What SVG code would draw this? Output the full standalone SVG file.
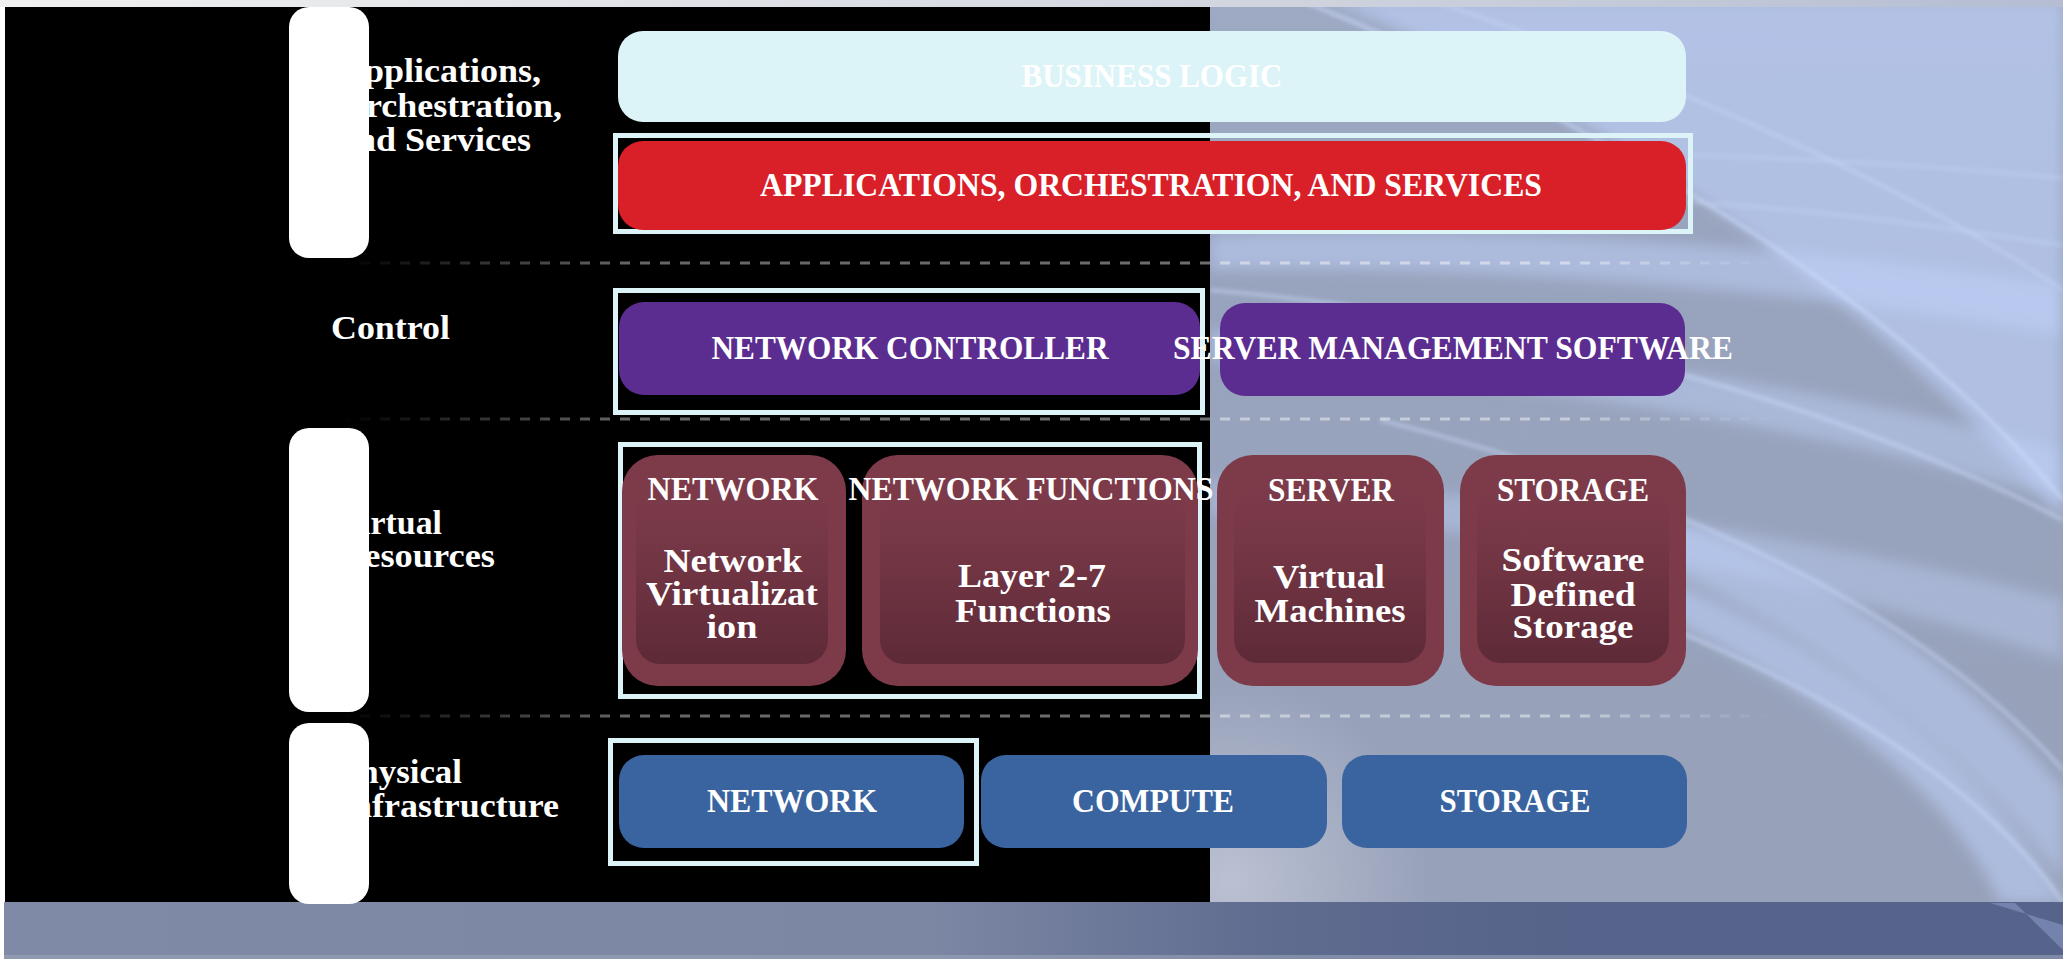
<svg xmlns="http://www.w3.org/2000/svg" width="2063" height="959" viewBox="0 0 2063 959">
<defs>
<style>
.t{font-family:"Liberation Serif","DejaVu Serif",serif;font-weight:bold;fill:#fff;font-size:34px}
.lbl{font-size:33px}
.ml{font-size:33px}
.c{text-anchor:middle}
.frame{fill:none;stroke:#dcf4f8;stroke-width:5}
.dl{fill:none;stroke:url(#dash);stroke-width:3;stroke-dasharray:10 10}
.pill{fill:#fff}
.maroon{fill:#7d3b4a}
.inner{fill:url(#inner)}
.blue{fill:#3a64a0}
.purple{fill:#5c2d91}
.sw{fill:#bfd2fb}
.sl{fill:none;stroke:#cfe0ff}
</style>
<linearGradient id="bgRight" x1="0" y1="0" x2="0" y2="1">
<stop offset="0" stop-color="#9ea9c4"/>
<stop offset="0.3" stop-color="#98a3bd"/>
<stop offset="1" stop-color="#97a1b9"/>
</linearGradient>
<linearGradient id="band" x1="0" y1="0" x2="1" y2="0">
<stop offset="0" stop-color="#7f8aa6"/>
<stop offset="0.45" stop-color="#7c87a4"/>
<stop offset="0.62" stop-color="#5f6b8f"/>
<stop offset="0.76" stop-color="#56638a"/>
<stop offset="1" stop-color="#56638a"/>
</linearGradient>
<linearGradient id="topstrip" x1="0" y1="0" x2="1" y2="0">
<stop offset="0" stop-color="#f0f0f0"/>
<stop offset="0.55" stop-color="#d4d8e0"/>
<stop offset="1" stop-color="#b4bdd2"/>
</linearGradient>
<linearGradient id="dash" gradientUnits="userSpaceOnUse" x1="340" y1="0" x2="1780" y2="0">
<stop offset="0" stop-color="#fff" stop-opacity="0"/>
<stop offset="0.2" stop-color="#fff" stop-opacity="0.4"/>
<stop offset="0.85" stop-color="#fff" stop-opacity="0.45"/>
<stop offset="1" stop-color="#fff" stop-opacity="0"/>
</linearGradient>
<linearGradient id="inner" x1="0" y1="0" x2="0" y2="1">
<stop offset="0" stop-color="#7d3b4a"/>
<stop offset="0.35" stop-color="#743645"/>
<stop offset="1" stop-color="#5e2a37"/>
</linearGradient>
<radialGradient id="glowLL" cx="1230" cy="880" r="200" gradientUnits="userSpaceOnUse">
<stop offset="0" stop-color="#c4c9d8" stop-opacity="0.8"/>
<stop offset="1" stop-color="#c4c9d8" stop-opacity="0"/>
</radialGradient>
<filter id="soft" x="-20%" y="-20%" width="140%" height="140%"><feGaussianBlur stdDeviation="7"/></filter>
<filter id="soft2" x="-20%" y="-20%" width="140%" height="140%"><feGaussianBlur stdDeviation="2"/></filter>
<clipPath id="rclip"><rect x="1210" y="0" width="853" height="903"/></clipPath>
</defs>

<g id="background">
<rect x="0" y="0" width="2063" height="959" fill="#ffffff"/>
<rect x="5" y="7" width="1205" height="896" fill="#000"/>
<g clip-path="url(#rclip)">
<rect x="1210" y="0" width="853" height="903" fill="url(#bgRight)"/>
<rect x="1000" y="680" width="450" height="223" fill="url(#glowLL)"/>
<g filter="url(#soft)">
<path class="sw" opacity="0.6" d="M1330,0 L2063,0 L2063,520 C1900,330 1650,130 1330,0 Z"/>
<path class="sw" opacity="0.5" d="M1210,235 C1500,225 1800,245 2063,285 L2063,335 C1800,290 1500,265 1210,270 Z"/>
<path class="sw" opacity="0.45" d="M1210,330 C1600,345 1850,395 2063,450 L2063,500 C1850,440 1600,385 1210,360 Z"/>
<path class="sw" opacity="0.4" d="M1210,480 C1550,490 1850,545 2063,600 L2063,660 C1850,590 1550,525 1210,515 Z"/>
<path class="sw" opacity="0.5" d="M1520,470 C1800,545 1960,660 2063,790 L2063,880 C1950,730 1790,610 1520,505 Z"/>
<path class="sw" opacity="0.55" d="M1620,560 C1850,650 1990,770 2063,903 L2000,903 C1950,790 1820,690 1620,595 Z"/>
</g>
<g filter="url(#soft2)">
<path class="sl" stroke-width="3" opacity="0.7" d="M1300,0 C1600,120 1900,300 2063,500"/>
<path class="sl" stroke-width="2" opacity="0.6" d="M1430,0 C1700,90 1930,200 2063,290"/>
<path class="sl" stroke-width="3" opacity="0.6" d="M1210,290 C1550,320 1850,410 2063,520"/>
<path class="sl" stroke-width="3" opacity="0.6" d="M1380,420 C1700,500 1930,620 2063,770"/>
<path class="sl" stroke-width="3" opacity="0.6" d="M1480,560 C1800,660 1980,780 2063,903"/>
<path class="sl" stroke-width="2" opacity="0.5" d="M1690,155 C1850,160 1950,168 2063,178"/>
<path class="sl" stroke-width="2" opacity="0.5" d="M1650,200 C1850,210 1950,230 2063,245"/>
</g>
</g>
<rect x="0" y="0" width="2063" height="7" fill="url(#topstrip)"/>
<rect x="4" y="902" width="2059" height="57" fill="url(#band)"/>
<rect x="4" y="955" width="2059" height="4" fill="#9aa3b8" opacity="0.6"/>
<path d="M1990,903 L2015,903 L2063,950 L2063,925 Z" fill="#a8c0ee" opacity="0.35"/>
</g>

<g id="separators">
<line class="dl" x1="340" y1="263" x2="1780" y2="263"/>
<line class="dl" x1="340" y1="419" x2="1780" y2="419"/>
<line class="dl" x1="340" y1="716" x2="1780" y2="716"/>
</g>

<g id="connectors"></g>

<g id="label-apps">
<text class="t lbl" x="338" y="82" textLength="203" lengthAdjust="spacingAndGlyphs">Applications,</text>
<text class="t lbl" x="338" y="117" textLength="224" lengthAdjust="spacingAndGlyphs">Orchestration,</text>
<text class="t lbl" x="338" y="151" textLength="193" lengthAdjust="spacingAndGlyphs">and Services</text>
<rect class="pill" x="289" y="7" width="80" height="251" rx="20"/>
</g>
<g id="label-control">
<text class="t lbl" x="331" y="339" textLength="119" lengthAdjust="spacingAndGlyphs">Control</text>
</g>
<g id="label-virtual">
<text class="t lbl" x="338" y="534" textLength="104" lengthAdjust="spacingAndGlyphs">Virtual</text>
<text class="t lbl" x="338" y="567" textLength="157" lengthAdjust="spacingAndGlyphs">Resources</text>
<rect class="pill" x="289" y="428" width="80" height="284" rx="20"/>
</g>
<g id="label-physical">
<text class="t lbl" x="338" y="783" textLength="124" lengthAdjust="spacingAndGlyphs">Physical</text>
<text class="t lbl" x="338" y="817" textLength="221" lengthAdjust="spacingAndGlyphs">Infrastructure</text>
<rect class="pill" x="289" y="723" width="80" height="181" rx="20"/>
</g>

<g id="business-logic">
<rect x="618" y="31" width="1068" height="91" rx="25" fill="#dcf4f8"/>
<text class="t c" x="1152" y="87" textLength="261" lengthAdjust="spacingAndGlyphs">BUSINESS LOGIC</text>
</g>

<g id="apps-orchestration">
<rect class="frame" x="615.5" y="135.5" width="1075" height="96"/>
<rect x="618" y="141" width="1068" height="89" rx="25" fill="#d91f28"/>
<text class="t c" x="1151" y="196" textLength="782" lengthAdjust="spacingAndGlyphs">APPLICATIONS, ORCHESTRATION, AND SERVICES</text>
</g>

<g id="network-controller">
<rect class="frame" x="615.5" y="290.5" width="587" height="122"/>
<rect class="purple" x="619" y="302" width="581" height="93" rx="25"/>
<text class="t c" x="910" y="359" textLength="397" lengthAdjust="spacingAndGlyphs">NETWORK CONTROLLER</text>
</g>

<g id="server-management">
<rect class="purple" x="1220" y="303" width="465" height="93" rx="25"/>
<text class="t c" x="1453" y="359" textLength="560" lengthAdjust="spacingAndGlyphs">SERVER MANAGEMENT SOFTWARE</text>
</g>

<g id="virtual-frame">
<rect class="frame" x="620.5" y="444.5" width="579" height="252"/>
</g>

<g id="v-network">
<rect class="maroon" x="622" y="455" width="224" height="231" rx="36"/>
<rect class="inner" x="636" y="490" width="192" height="174" rx="24"/>
<text class="t c" x="733" y="500" textLength="171" lengthAdjust="spacingAndGlyphs">NETWORK</text>
<text class="t c ml" x="733" y="572" textLength="139" lengthAdjust="spacingAndGlyphs">Network</text>
<text class="t c ml" x="732" y="605" textLength="172" lengthAdjust="spacingAndGlyphs">Virtualizat</text>
<text class="t c ml" x="732" y="638" textLength="51" lengthAdjust="spacingAndGlyphs">ion</text>
</g>

<g id="v-network-functions">
<rect class="maroon" x="862" y="455" width="336" height="231" rx="36"/>
<rect class="inner" x="880" y="490" width="305" height="174" rx="24"/>
<text class="t c" x="1031" y="500" textLength="365" lengthAdjust="spacingAndGlyphs">NETWORK FUNCTIONS</text>
<text class="t c ml" x="1032" y="587" textLength="148" lengthAdjust="spacingAndGlyphs">Layer 2-7</text>
<text class="t c ml" x="1033" y="622" textLength="156" lengthAdjust="spacingAndGlyphs">Functions</text>
</g>

<g id="v-server">
<rect class="maroon" x="1217" y="455" width="227" height="231" rx="36"/>
<rect class="inner" x="1234" y="490" width="192" height="173" rx="24"/>
<text class="t c" x="1331" y="501" textLength="126" lengthAdjust="spacingAndGlyphs">SERVER</text>
<text class="t c ml" x="1329" y="588" textLength="112" lengthAdjust="spacingAndGlyphs">Virtual</text>
<text class="t c ml" x="1330" y="622" textLength="151" lengthAdjust="spacingAndGlyphs">Machines</text>
</g>

<g id="v-storage">
<rect class="maroon" x="1460" y="455" width="226" height="231" rx="36"/>
<rect class="inner" x="1477" y="490" width="192" height="173" rx="24"/>
<text class="t c" x="1573" y="501" textLength="152" lengthAdjust="spacingAndGlyphs">STORAGE</text>
<text class="t c ml" x="1573" y="571" textLength="143" lengthAdjust="spacingAndGlyphs">Software</text>
<text class="t c ml" x="1573" y="606" textLength="125" lengthAdjust="spacingAndGlyphs">Defined</text>
<text class="t c ml" x="1573" y="638" textLength="121" lengthAdjust="spacingAndGlyphs">Storage</text>
</g>

<g id="p-network">
<rect class="frame" x="610.5" y="740.5" width="366" height="123"/>
<rect class="blue" x="619" y="755" width="345" height="93" rx="25"/>
<text class="t c" x="792" y="812" textLength="170" lengthAdjust="spacingAndGlyphs">NETWORK</text>
</g>

<g id="p-compute">
<rect class="blue" x="981" y="755" width="346" height="93" rx="25"/>
<text class="t c" x="1153" y="812" textLength="162" lengthAdjust="spacingAndGlyphs">COMPUTE</text>
</g>

<g id="p-storage">
<rect class="blue" x="1342" y="755" width="345" height="93" rx="25"/>
<text class="t c" x="1515" y="812" textLength="151" lengthAdjust="spacingAndGlyphs">STORAGE</text>
</g>
</svg>
